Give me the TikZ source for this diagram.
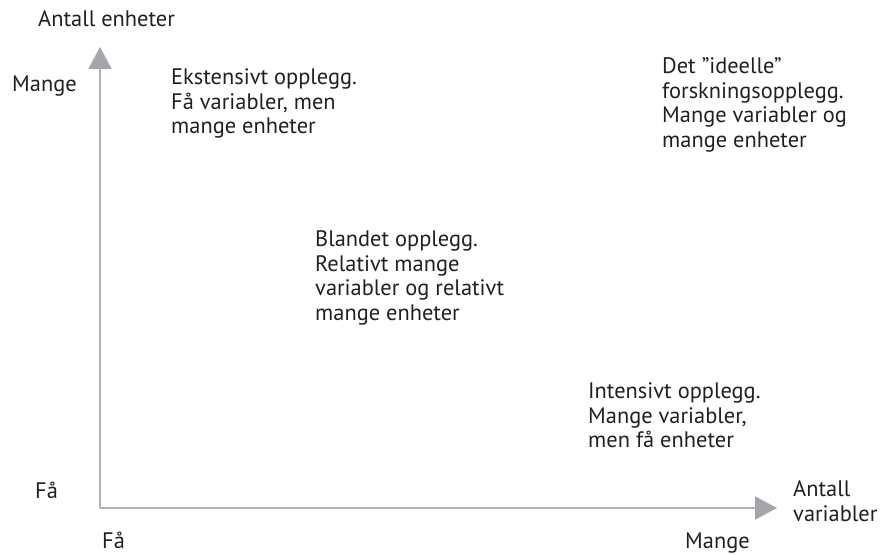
\documentclass[tikz,border=0pt]{standalone}
\usepackage{fontspec}
\setmainfont{PT Sans}
\usetikzlibrary{arrows.meta}
\definecolor{axisgray}{RGB}{178,178,188}
\definecolor{headgray}{RGB}{165,165,172}
\definecolor{txt}{RGB}{35,31,32}
\tikzset{
  axis/.style={draw=axisgray, line width=2pt,
    -{Triangle[width=23pt,length=22pt,color=headgray,fill=headgray]}},
  lbl/.style={font=\fontsize{22.4}{24.5}\selectfont, text=txt, inner sep=0pt, anchor=base west, align=left}
}
\begin{document}
\begin{tikzpicture}[x=1pt,y=1pt]
\useasboundingbox (0,0) rectangle (880,554);
\coordinate (origin) at (100,46);
\coordinate (ytip) at (100,507);
\coordinate (xtip) at (777,46);
\draw[axis] (origin) -- (ytip);
\draw[axis] (origin) -- (xtip);
\node[lbl] (ylabel) at (38,527) {Antall enheter};
\node[lbl] (ymany) at (12,462) {Mange};
\node[lbl] (yfew) at (35,56) {Få};
\node[lbl] (xfew) at (102,6) {Få};
\node[lbl] (xmany) at (685,6) {Mange};
% multi-line nodes: base anchor is the baseline of the last line
\node[lbl] (xlabel) at (793,33) {Antall\\variabler};
\node[lbl] (ext) at (171,420) {Ekstensivt opplegg.\\Få variabler, men\\mange enheter};
\node[lbl] (ideal) at (662,406.5) {Det ”ideelle”\\forskningsopplegg.\\Mange variabler og\\mange enheter};
\node[lbl] (mixed) at (315,233.5) {Blandet opplegg.\\Relativt mange\\variabler og relativt\\mange enheter};
\node[lbl] (int) at (588,106) {Intensivt opplegg.\\Mange variabler,\\men få enheter};
\end{tikzpicture}
\end{document}
